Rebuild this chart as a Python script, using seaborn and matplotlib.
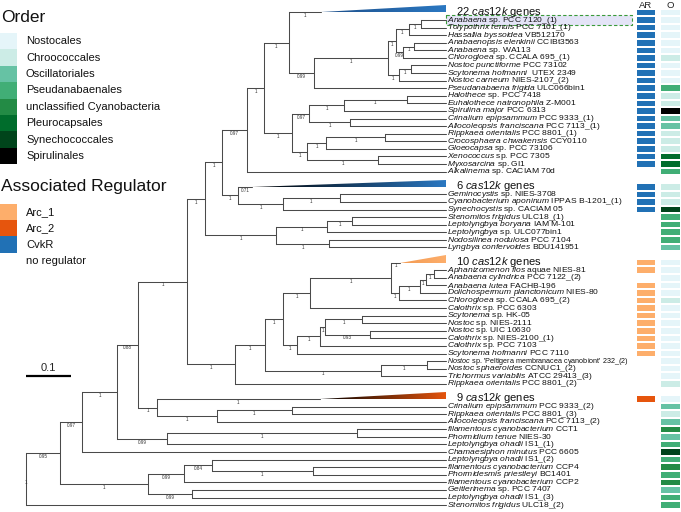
import numpy as np
import pandas as pd
import matplotlib
matplotlib.use("Agg")
import matplotlib.pyplot as plt
from matplotlib.colors import ListedColormap, LinearSegmentedColormap
from matplotlib.patches import Rectangle, Polygon
import seaborn as sns

sns.set_theme(style="white")
plt.rcParams['font.family'] = ['Liberation Sans', 'DejaVu Sans']
plt.rcParams['mathtext.fontset'] = 'custom'
plt.rcParams['mathtext.it'] = 'Liberation Sans:italic'
plt.rcParams['mathtext.rm'] = 'Liberation Sans'
plt.rcParams['mathtext.bf'] = 'Liberation Sans:bold'

# ---------------- data ----------------
taxa_italic = [
    "",
    "Anabaena", "Tolypothrix tenuis", "Hassallia byssoidea", "Anabaenopsis elenkinii", "Anabaena",
    "Chlorogloea", "Nostoc punctiforme", "Scytonema hofmanni", "Nostoc carneum", "Pseudanabaena frigida",
    "Halothece", "Euhalothece natronophila", "Spirulina major", "Crinalium epipsammum",
    "Allocoleopsis franciscana", "Rippkaea orientalis", "Crocosphaera chwakensis", "Gloeocapsa",
    "Xenococcus", "Myxosarcina", "Alkalinema",
    "",
    "Geminocystis", "Cyanobacterium aponinum", "Synechocystis", "Stenomitos frigidus",
    "Leptolyngbya boryana", "Leptolyngbya", "Nodosilinea nodulosa", "Lyngbya confervoides",
    "",
    "Aphanizomenon flos", "Anabaena cylindrica", "Anabaena lutea", "Dolichospermum planctonicum",
    "Chlorogloea", "Calothrix", "Scytonema", "Nostoc", "Nostoc", "Calothrix", "Calothrix",
    "Scytonema hofmanni", "Nostoc", "Nostoc sphaeroides", "Trichormus variabilis", "Rippkaea orientalis",
    "",
    "Crinalium epipsammum", "Rippkaea orientalis", "Allocoleopsis franciscana",
    "filamentous cyanobacterium", "Phormidium tenue", "Leptolyngbya ohadii", "Chamaesiphon minutus",
    "Leptolyngbya ohadii", "filamentous cyanobacterium", "Phormidesmis priestleyi",
    "filamentous cyanobacterium", "Geitlerinema", "Leptolyngbya ohadii", "Stenomitos frigidus",
]
taxa_plain = [
    "",
    "sp. PCC 7120_(1)", "PCC 7101_(1)", "VB512170", "CCIBt3563", "sp. WA113",
    "sp. CCALA 695_(1)", "PCC 73102", " UTEX 2349", "NIES-2107_(2)", "ULC066bin1",
    "sp. PCC 7418", "Z-M001", "PCC 6313", "PCC 9333_(1)",
    "PCC 7113_(1)", "PCC 8801_(1)", "CCY0110", "sp. PCC 73106",
    "sp. PCC 7305", "sp. GI1", "sp. CACIAM 70d",
    "",
    "sp. NIES-3708", "IPPAS B-1201_(1)", "sp. CACIAM 05", "ULC18_(1)",
    "IAM M-101", "sp. ULC077bin1", "PCC 7104", "BDU141951",
    "",
    "aquae NIES-81", "PCC 7122_(2)", "FACHB-196", "NIES-80",
    "sp. CCALA 695_(2)", "sp. PCC 6303", "sp. HK-05", "sp. NIES-2111", "sp. UIC 10630",
    "sp. NIES-2100_(1)", "sp. PCC 7103",
    "PCC 7110", "sp. 'Peltigera membranacea cyanobiont' 232_(2)", "CCNUC1_(2)", "ATCC 29413_(3)",
    "PCC 8801_(2)",
    "",
    "PCC 9333_(2)", "PCC 8801_(3)", "PCC 7113_(2)",
    "CCT1", "NIES-30", "IS1_(1)", "PCC 6605",
    "IS1_(2)", "CCP4", "BC1401",
    "CCP2", "sp. PCC 7407", "IS1_(3)", "ULC18_(2)",
]
regulator = (["CvkR"] * 21 + ["none"] + ["CvkR"] * 4 + ["none"] * 5 + ["Arc_1"] * 2 + ["none"]
             + ["Arc_1"] * 10 + ["none"] * 4 + ["Arc_2"] + ["none"] * 14)
order = [
    "Nostocales",
    "Nostocales", "Nostocales", "Nostocales", "Nostocales", "Nostocales",
    "Chroococcales", "Nostocales", "Nostocales", "Nostocales", "Pseudanabaenales",
    "Chroococcales", "Chroococcales", "Spirulinales", "Oscillatoriales",
    "Oscillatoriales", "Chroococcales", "Chroococcales", "Chroococcales",
    "Pleurocapsales", "Pleurocapsales", "Pseudanabaenales",
    "Chroococcales",
    "Chroococcales", "Chroococcales", "Synechococcales", "Pseudanabaenales",
    "Pseudanabaenales", "Pseudanabaenales", "Pseudanabaenales", "Oscillatoriales",
    "Nostocales",
    "Nostocales", "Nostocales", "Nostocales", "Nostocales",
    "Chroococcales", "Nostocales", "Nostocales", "Nostocales", "Nostocales", "Nostocales",
    "Nostocales", "Nostocales", "Nostocales", "Nostocales", "Nostocales", "Chroococcales",
    "Nostocales",
    "Oscillatoriales", "Chroococcales", "Oscillatoriales",
    "unclassified Cyanobacteria", "Oscillatoriales", "Pseudanabaenales", "Synechococcales",
    "Pseudanabaenales", "unclassified Cyanobacteria", "Pseudanabaenales",
    "unclassified Cyanobacteria", "Oscillatoriales", "Pseudanabaenales", "Pseudanabaenales",
]
# collapsed clades: row -> number of cas12k genes, support
collapsed_n = {0: 22, 22: 6, 31: 10, 48: 9}
collapsed_support = {0: "1", 22: "0.71", 31: "1", 48: "1"}
collapsed_colors = {0: ("#1d4f8a", "#2b78c2"), 22: ("#000000", "#2b78c2"),
                    31: ("#f39a52", "#fdae6b"), 48: ("#000000", "#e6550d")}

# tree: node -> ([(child, branch length), ...], support); leaves are t<row>
clades = {
    "root": ([("N10", 0.0756), ("t62", 0)], "1"),
    "N10": ([("N9", 0.0489), ("RR", 0.1956)], "0.95"),
    "N9": ([("N8", 0.0778), ("t55", 0)], "0.97"),
    "N8": ([("N7", 0.0467), ("NN", 0.111)], "1"),
    "N7": ([("N6", 0.109), ("LL", 0.042)], "0.88"),
    "N6": ([("N5", 0.040), ("W", 0.107)], "1"),
    "N5": ([("N3", 0.038), ("S", 0.158)], "1"),
    "N3": ([("N2", 0.056), ("N4", 0.036)], "1"),
    "N2": ([("N1", 0.036), ("t21", 0)], "0.97"),
    "N1": ([("A", 0.056), ("P", 0.064)], "1"),
    "A": ([("t0", 0.071), ("B", 0.056)], "1"),
    "B": ([("C", 0.164), ("t10", 0)], "0.99"),
    "C": ([("I", 0.018), ("K", 0.024)], "1"),
    "I": ([("F", 0.029), ("H", 0.016)], "1"),
    "F": ([("E", 0.027), ("t3", 0)], "1"),
    "E": ([("t1", 0), ("t2", 0)], "1"),
    "H": ([("G", 0.024), ("t6", 0)], "0.99"),
    "G": ([("t4", 0), ("t5", 0)], "1"),
    "K": ([("J", 0.027), ("t9", 0)], "1"),
    "J": ([("t7", 0), ("t8", 0)], "1"),
    "P": ([("XX", 0.038), ("BBB", 0.033)], "1"),
    "XX": ([("YY", 0.076), ("ZZ", 0.089)], "0.97"),
    "YY": ([("AAA", 0.140), ("t13", 0)], "1"),
    "AAA": ([("t11", 0), ("t12", 0)], "1"),
    "ZZ": ([("t14", 0), ("t15", 0)], "1"),
    "BBB": ([("CCC", 0.042), ("DDD", 0.158)], "1"),
    "CCC": ([("EEE", 0.131), ("t18", 0)], "1"),
    "EEE": ([("t16", 0), ("t17", 0)], "1"),
    "DDD": ([("t19", 0), ("t20", 0)], "1"),
    "N4": ([("t22", 0.031), ("Q", 0.098)], "1"),
    "Q": ([("R", 0.127), ("t25", 0)], "1"),
    "R": ([("t23", 0), ("t24", 0)], "1"),
    "S": ([("T", 0.113), ("U", 0.118)], "1"),
    "T": ([("V", 0.056), ("t28", 0)], "1"),
    "V": ([("t26", 0), ("t27", 0)], "1"),
    "U": ([("t29", 0), ("t30", 0)], "1"),
    "W": ([("X", 0.067), ("t47", 0)], "1"),
    "X": ([("Y", 0.040), ("KK", 0.256)], "1"),
    "Y": ([("M310", 0.060), ("BB", 0.031)], "1"),
    "M310": ([("M390", 0.178), ("t37", 0)], "1"),
    "M390": ([("t31", 0.022), ("M398", 0.018)], "1"),
    "M398": ([("M419", 0.047), ("t36", 0)], "1"),
    "M419": ([("M425", 0.013), ("t35", 0)], "1"),
    "M425": ([("M433", 0.018), ("t34", 0)], "1"),
    "M433": ([("t32", 0), ("t33", 0)], "1"),
    "BB": ([("II", 0.051), ("t43", 0)], "1"),
    "II": ([("HH", 0.010), ("t42", 0)], "1"),
    "HH": ([("EE", 0.083), ("GG", 0.100)], "1"),
    "EE": ([("t38", 0), ("t39", 0)], "1"),
    "GG": ([("t40", 0), ("t41", 0)], "0.93"),
    "KK": ([("JJ", 0.104), ("t46", 0)], "1"),
    "JJ": ([("t44", 0), ("t45", 0)], "1"),
    "LL": ([("t48", 0.362), ("OO", 0.133)], "1"),
    "OO": ([("PP", 0.167), ("t51", 0)], "1"),
    "PP": ([("t49", 0), ("t50", 0)], "1"),
    "NN": ([("QQ", 0.422), ("t54", 0)], "0.99"),
    "QQ": ([("t52", 0), ("t53", 0)], "1"),
    "RR": ([("SS", 0.080), ("TT", 0.098)], "1"),
    "SS": ([("UU", 0.062), ("t59", 0)], "0.99"),
    "UU": ([("t56", 0), ("VV", 0.224)], "0.84"),
    "VV": ([("t57", 0), ("t58", 0)], "1"),
    "TT": ([("t60", 0), ("t61", 0)], "0.99"),
}

order_levels = ["Nostocales", "Chroococcales", "Oscillatoriales", "Pseudanabaenales",
                "unclassified Cyanobacteria", "Pleurocapsales", "Synechococcales", "Spirulinales"]
order_colors = ["#e5f5f9", "#ccece6", "#66c2a4", "#41ae76", "#238b45", "#006d2c", "#00441b", "#000000"]
reg_levels = ["Arc_1", "Arc_2", "CvkR", "no regulator"]
reg_colors = ["#fdae6b", "#e6550d", "#2171b5", "#ffffff"]
reg_key = {"Arc_1": 0, "Arc_2": 1, "CvkR": 2, "none": 3}
column_titles = ["AR", "O"]

# ---------------- layout ----------------
n = len(taxa_italic)
row_u = []
u = -1
for i in range(n):
    if i > 0:
        u += 2 if i in collapsed_n else 1
    row_u.append(u)

depth = {"root": 0.0}
parent = {}
ypos = {}


def walk(name):
    if name in clades:
        kids, _ = clades[name]
        ys = []
        for k, bl in kids:
            depth[k] = depth[name] + bl
            parent[k] = name
            ys.append(walk(k))
        ypos[name] = (ys[0] + ys[-1]) / 2
    else:
        ypos[name] = row_u[int(name[1:])]
    return ypos[name]


walk("root")

PX_X = 450.0   # px per unit branch length
PX_Y = 7.58    # px per row
X0, Y0 = 26.0, 20.0
W, H = 681, 512
align_x = (446 - X0) / PX_X

fig = plt.figure(figsize=(W / 100, H / 100), dpi=100)
ax = fig.add_axes([0, 0, 1, 1])
ax.set_xlim(-X0 / PX_X, (W - X0) / PX_X)
ax.set_ylim((H - Y0) / PX_Y, -Y0 / PX_Y)
ax.axis("off")

lc = "#4a4a4a"
lw = 0.75
sup_fs = 3.3

for name, (kids, sup) in clades.items():
    x = depth[name]
    ax.plot([x, x], [ypos[kids[0][0]], ypos[kids[-1][0]]], color=lc, lw=lw, solid_capstyle="projecting")
    for k, bl in kids:
        yk = ypos[k]
        if k in clades:
            ax.plot([x, depth[k]], [yk, yk], color=lc, lw=lw)
        else:
            idx = int(k[1:])
            if idx in collapsed_n:
                xs = depth[k]
                ax.plot([x, xs], [yk, yk], color=lc, lw=lw)
                h = 0.95
                poly = Polygon([[xs, yk], [align_x, yk], [align_x, yk - h]], closed=True,
                               facecolor="none", edgecolor="none")
                ax.add_patch(poly)
                c0, c1 = collapsed_colors[idx]
                cm = LinearSegmentedColormap.from_list("g%d" % idx, [c0, c1])
                grad = np.linspace(0, 1, 256).reshape(1, -1)
                im = ax.imshow(grad, extent=[xs, align_x, yk, yk - h], cmap=cm, aspect="auto",
                               interpolation="bilinear", zorder=3)
                im.set_clip_path(poly)
                ax.text((x + xs) / 2, yk + 0.12, collapsed_support[idx], fontsize=sup_fs,
                        ha="center", va="top", color="#333333")
                ax.text(align_x + 0.022, yk - 0.1,
                        "%d $\\mathit{cas12k}$ genes" % collapsed_n[idx],
                        fontsize=8, ha="left", va="center", color="#111111")
            else:
                ax.plot([x, align_x], [yk, yk], color=lc, lw=lw)
    px = depth[parent[name]] if name in parent else x
    ax.text((px + x) / 2, ypos[name] + 0.12, sup, fontsize=sup_fs, ha="center", va="top",
            color="#333333")

ax.set_xlim(-X0 / PX_X, (W - X0) / PX_X)
ax.set_ylim((H - Y0) / PX_Y, -Y0 / PX_Y)

# highlight box around Anabaena sp. PCC 7120_(1)
ax.add_patch(Rectangle((align_x, row_u[1] - 0.68), (632 - 446) / PX_X, 1.4,
                       facecolor="#e4e4f7", edgecolor="#3a9a3a", lw=0.8, ls=(0, (3, 2)), zorder=1))

# leaf labels (the long cyanobiont label is set slightly smaller, as in the figure)
label_size = {44: 5.2}
for i in range(n):
    if i in collapsed_n:
        continue
    it = taxa_italic[i].replace(" ", "\\ ")
    sep = "  " if taxa_plain[i].startswith(" ") else " "
    label = "$\\mathit{%s}$%s%s" % (it, sep, taxa_plain[i].strip())
    ax.text(align_x + 0.003, row_u[i], label, fontsize=label_size.get(i, 6.1), ha="left",
            va="center", color="#111111", zorder=4)

# scale bar
ax.plot([0, 0.1], [(376 - Y0) / PX_Y] * 2, color="black", lw=1.6, solid_capstyle="butt")
ax.text(0.05, (376 - Y0) / PX_Y - 0.35, "0.1", fontsize=8, ha="center", va="bottom")

# ---------------- heat-map columns ----------------
ngrid = row_u[-1] - row_u[0] + 1
ar_grid = np.full(ngrid, np.nan)
o_grid = np.full(ngrid, np.nan)
for i in range(n):
    g = row_u[i] - row_u[0]
    ar_grid[g] = reg_key[regulator[i]]
    o_grid[g] = order_levels.index(order[i])

top_px = Y0 + (row_u[0] - 0.5) * PX_Y
bot_px = Y0 + (row_u[-1] + 0.5) * PX_Y
hb = 1 - bot_px / H
hh = (bot_px - top_px) / H

ax_ar = fig.add_axes([635.5 / W, hb, 20 / W, hh])
ax_o = fig.add_axes([659.5 / W, hb, 21 / W, hh])

df_ar = pd.DataFrame({column_titles[0]: ar_grid})
df_o = pd.DataFrame({column_titles[1]: o_grid})
sns.heatmap(df_ar, ax=ax_ar, cmap=ListedColormap(reg_colors), vmin=-0.5, vmax=3.5, cbar=False,
            mask=df_ar.isna(), linewidths=0.35, linecolor="white", yticklabels=False, xticklabels=False)
sns.heatmap(df_o, ax=ax_o, cmap=ListedColormap(order_colors), vmin=-0.5, vmax=7.5, cbar=False,
            mask=df_o.isna(), linewidths=0.35, linecolor="white", yticklabels=False, xticklabels=False)
for a in (ax_ar, ax_o):
    a.set_ylabel("")
    a.set_xlabel("")

# ---------------- legends ----------------
lg = fig.add_axes([0, 0, 1, 1], facecolor="none")
lg.set_xlim(0, W)
lg.set_ylim(H, 0)
lg.axis("off")
lg.text(645.5, 5.5, column_titles[0], fontsize=6.8, ha="center", va="center", color="#222222")
lg.text(670, 5.5, column_titles[1], fontsize=6.8, ha="center", va="center", color="#222222")
lg.text(1, 17, "Order", fontsize=12.5, ha="left", va="center", color="#111111")
bh = 16.4
for j, (lev, col) in enumerate(zip(order_levels, order_colors)):
    y = 33 + j * bh
    lg.add_patch(Rectangle((0, y), 16.5, bh, facecolor=col, edgecolor="none"))
    lg.text(26, y + bh / 2, lev, fontsize=8, ha="left", va="center", color="#111111")
lg.text(1, 187, "Associated Regulator", fontsize=12.5, ha="left", va="center", color="#111111")
for j, (lev, col) in enumerate(zip(reg_levels, reg_colors)):
    y = 203.5 + j * bh
    lg.add_patch(Rectangle((0, y), 16.5, bh, facecolor=col, edgecolor="none"))
    lg.text(26, y + bh / 2, lev, fontsize=8, ha="left", va="center", color="#111111")

fig.savefig("out.png", dpi=100)
